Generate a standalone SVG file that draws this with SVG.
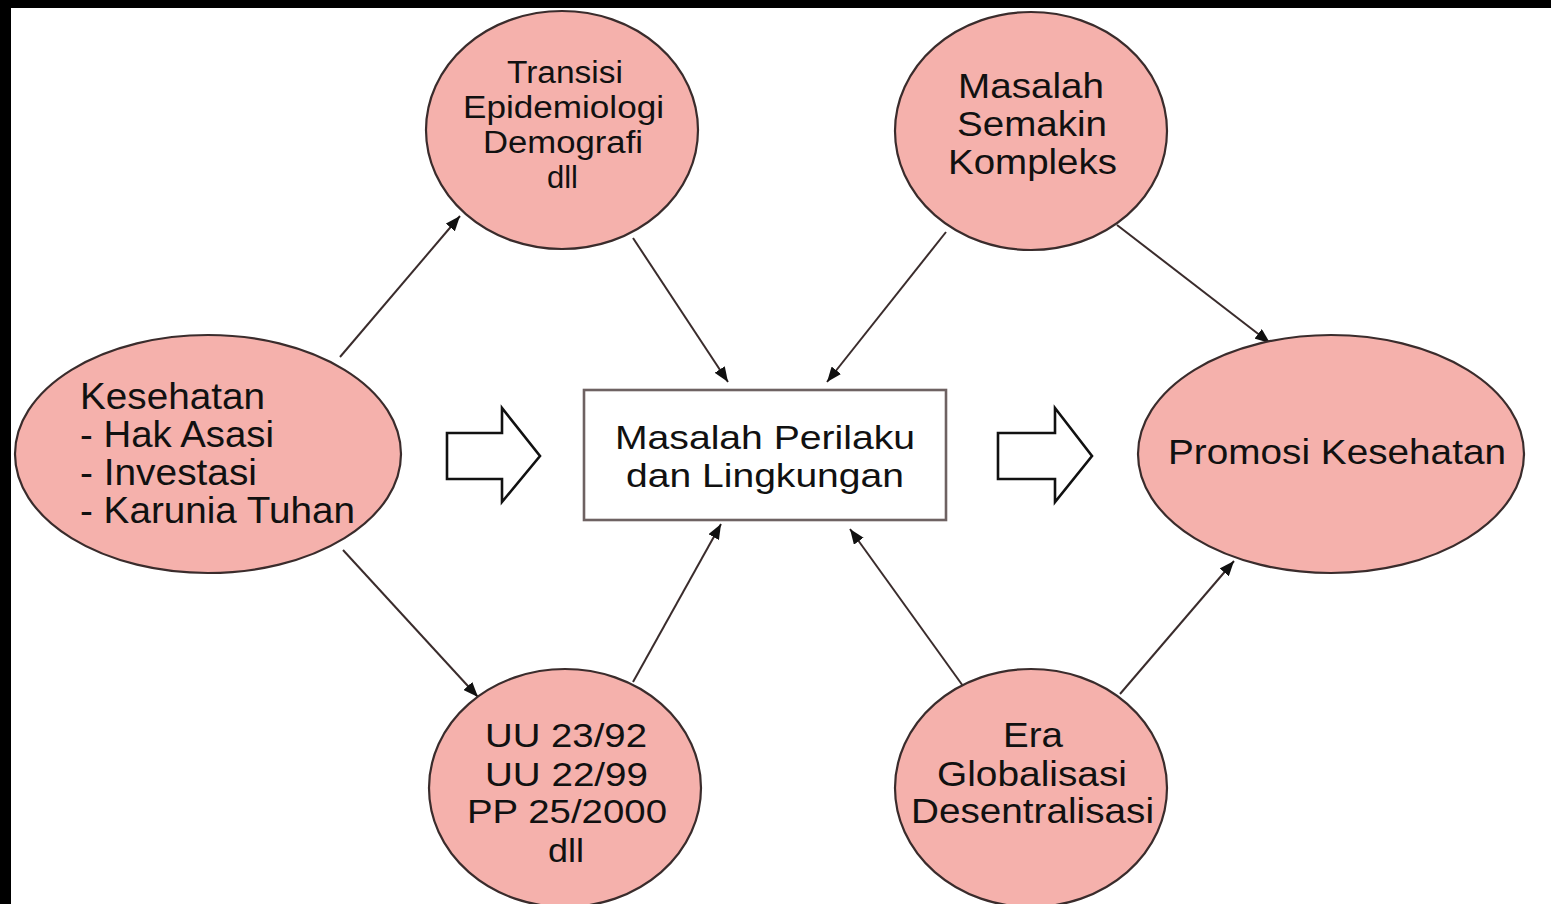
<svg xmlns="http://www.w3.org/2000/svg" width="1551" height="904" viewBox="0 0 1551 904">
  <style>
    .bubble { fill: #f5b1ac; stroke: #3a2c2c; stroke-width: 2.2; }
    .label { font-family: "Liberation Sans", Arial, sans-serif; fill: #111; }
    .link { stroke: #3a2c2c; stroke-width: 2; fill: none; marker-end: url(#tip); }
    .bigarrow { fill: #ffffff; stroke: #111; stroke-width: 2.6; stroke-linejoin: miter; }
  </style>
  <defs>
    <marker id="tip" markerUnits="userSpaceOnUse" markerWidth="16" markerHeight="12" refX="15" refY="6" orient="auto">
      <path d="M0,0 L15,6 L0,12 Z" fill="#111"/>
    </marker>
  </defs>

  <!-- page background and dark frame edges -->
  <rect x="0" y="0" width="1551" height="904" fill="#ffffff"/>
  <rect x="0" y="0" width="1551" height="8" fill="#000"/>
  <rect x="0" y="0" width="11" height="904" fill="#000"/>

  <!-- connectors -->
  <g id="connectors">
    <line class="link" x1="340" y1="357" x2="460" y2="216"/>
    <line class="link" x1="343" y1="550" x2="478" y2="697"/>
    <line class="link" x1="633" y1="238" x2="728" y2="382"/>
    <line class="link" x1="946" y1="232" x2="827" y2="382"/>
    <line class="link" x1="1117" y1="225" x2="1270" y2="343"/>
    <line class="link" x1="633" y1="682" x2="721" y2="524"/>
    <line class="link" x1="963" y1="686" x2="850" y2="529"/>
    <line class="link" x1="1120" y1="694" x2="1234" y2="561"/>
    <!-- hollow block arrows -->
    <path class="bigarrow" d="M447,433 L502,433 L502,408 L540,456 L502,502 L502,479 L447,479 Z"/>
    <path class="bigarrow" d="M998,433 L1055,433 L1055,408 L1092,456 L1055,502 L1055,479 L998,479 Z"/>
  </g>

  <g id="kesehatan">
    <ellipse class="bubble" cx="208" cy="454" rx="193" ry="119"/>
    <text class="label" font-size="36" x="80" y="409" textLength="185" lengthAdjust="spacingAndGlyphs">Kesehatan</text>
    <text class="label" font-size="36" x="80" y="447" textLength="194" lengthAdjust="spacingAndGlyphs">- Hak Asasi</text>
    <text class="label" font-size="36" x="80" y="485" textLength="177" lengthAdjust="spacingAndGlyphs">- Investasi</text>
    <text class="label" font-size="36" x="80" y="523" textLength="275" lengthAdjust="spacingAndGlyphs">- Karunia Tuhan</text>
  </g>

  <g id="transisi">
    <ellipse class="bubble" cx="562" cy="130" rx="136" ry="119"/>
    <text class="label" font-size="31" x="507" y="83" textLength="116" lengthAdjust="spacingAndGlyphs">Transisi</text>
    <text class="label" font-size="31" x="463" y="118" textLength="201" lengthAdjust="spacingAndGlyphs">Epidemiologi</text>
    <text class="label" font-size="31" x="483" y="153" textLength="160" lengthAdjust="spacingAndGlyphs">Demografi</text>
    <text class="label" font-size="31" x="547" y="188" textLength="31" lengthAdjust="spacingAndGlyphs">dll</text>
  </g>

  <g id="kompleks">
    <ellipse class="bubble" cx="1031" cy="131" rx="136" ry="119"/>
    <text class="label" font-size="35" x="958" y="98" textLength="146" lengthAdjust="spacingAndGlyphs">Masalah</text>
    <text class="label" font-size="35" x="957" y="136" textLength="150" lengthAdjust="spacingAndGlyphs">Semakin</text>
    <text class="label" font-size="35" x="948" y="174" textLength="169" lengthAdjust="spacingAndGlyphs">Kompleks</text>
  </g>

  <g id="masalah-perilaku">
    <rect x="584" y="390" width="362" height="130" fill="#ffffff" stroke="#6e6262" stroke-width="2.6"/>
    <text class="label" font-size="33" x="615" y="449" textLength="300" lengthAdjust="spacingAndGlyphs">Masalah Perilaku</text>
    <text class="label" font-size="33" x="626" y="487" textLength="278" lengthAdjust="spacingAndGlyphs">dan Lingkungan</text>
  </g>

  <g id="promosi">
    <ellipse class="bubble" cx="1331" cy="454" rx="193" ry="119"/>
    <text class="label" font-size="35" x="1168" y="464" textLength="338" lengthAdjust="spacingAndGlyphs">Promosi Kesehatan</text>
  </g>

  <g id="regulasi">
    <ellipse class="bubble" cx="565" cy="788" rx="136" ry="119"/>
    <text class="label" font-size="34" x="485" y="747" textLength="162" lengthAdjust="spacingAndGlyphs">UU 23/92</text>
    <text class="label" font-size="34" x="485" y="786" textLength="163" lengthAdjust="spacingAndGlyphs">UU 22/99</text>
    <text class="label" font-size="34" x="467" y="823" textLength="200" lengthAdjust="spacingAndGlyphs">PP 25/2000</text>
    <text class="label" font-size="34" x="548" y="862" textLength="36" lengthAdjust="spacingAndGlyphs">dll</text>
  </g>

  <g id="globalisasi">
    <ellipse class="bubble" cx="1031" cy="788" rx="136" ry="119"/>
    <text class="label" font-size="35" x="1003" y="747" textLength="60" lengthAdjust="spacingAndGlyphs">Era</text>
    <text class="label" font-size="35" x="937" y="786" textLength="190" lengthAdjust="spacingAndGlyphs">Globalisasi</text>
    <text class="label" font-size="35" x="911" y="823" textLength="243" lengthAdjust="spacingAndGlyphs">Desentralisasi</text>
  </g>
</svg>
